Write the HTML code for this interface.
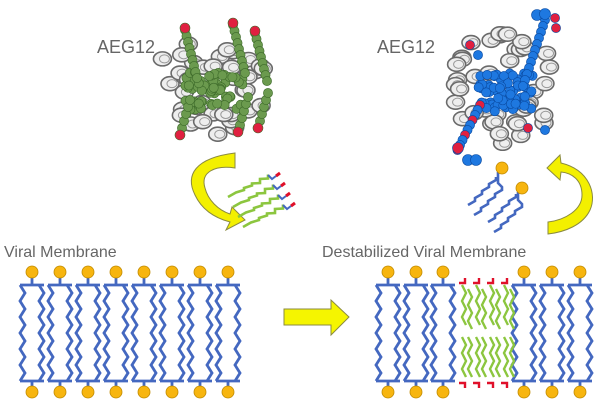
<!DOCTYPE html>
<html><head><meta charset="utf-8"><style>
html,body{margin:0;padding:0;background:#fff;width:604px;height:405px;overflow:hidden}
svg{display:block}
text{font-family:"Liberation Sans",sans-serif;fill:#666}
</style></head><body>
<svg id="s" width="604" height="405" viewBox="0 0 604 405">
<text x="97" y="53" font-size="18">AEG12</text>
<text x="377" y="53" font-size="18">AEG12</text>
<text x="4" y="257" font-size="16">Viral Membrane</text>
<text x="322" y="257" font-size="16">Destabilized Viral Membrane</text>
<polygon points="284,309 331,309 331,300 349,317 331,335 331,325 284,325" fill="#f5f500" stroke="#8a8a40" stroke-width="1"/>
<g id="g"></g>
</svg>
<script>
var g=document.getElementById('g'),h='';
function zig(x,y1,y2,a,col,w,st){st=st||8;var p='M'+x+' '+y1,k=0;for(var y=y1+st;y<=y2+0.1;y+=st){k++;p+=' L'+(x+(k%2?a:0))+' '+y;}return '<path d="'+p+'" fill="none" stroke="'+col+'" stroke-width="'+(w||2.8)+'" stroke-linejoin="miter"/>';}
var B='#4468c0',O='#f7b50f',G='#8cc63f',R='#e0102a';
function lipid(cx){var s='';
s+='<line x1="'+cx+'" y1="277" x2="'+cx+'" y2="285" stroke="'+B+'" stroke-width="2.8"/>';
s+='<line x1="'+(cx-12)+'" y1="285" x2="'+(cx+12)+'" y2="285" stroke="'+B+'" stroke-width="2.8"/>';
s+='<line x1="'+(cx-12)+'" y1="381" x2="'+(cx+12)+'" y2="381" stroke="'+B+'" stroke-width="2.8"/>';
s+='<line x1="'+cx+'" y1="381" x2="'+cx+'" y2="388" stroke="'+B+'" stroke-width="2.8"/>';
s+=zig(cx-12,285,381,5,B);s+=zig(cx+7,285,381,5,B);
s+='<circle cx="'+cx+'" cy="272" r="6" fill="'+O+'" stroke="#c08a00" stroke-width="0.8"/>';
s+='<circle cx="'+cx+'" cy="392" r="6" fill="'+O+'" stroke="#c08a00" stroke-width="0.8"/>';
return s;}
for(var i=0;i<8;i++)h+=lipid(32+i*28);
[388,416,443,524,552,580].forEach(function(c){h+=lipid(c)});
[467,481,495,509].forEach(function(c){
h+=zig(c-5,285,329,4,G,2.4)+zig(c+1,289,329,4,G,2.4);
h+=zig(c-5,337,381,4,G,2.4)+zig(c+1,337,377,4,G,2.4);
h+='<path d="M'+(c-8)+' 283 L'+(c-2)+' 283 L'+(c-2)+' 278" stroke="'+R+'" stroke-width="2.4" fill="none"/>';
h+='<path d="M'+(c-8)+' 383 L'+(c-2)+' 383 L'+(c-2)+' 388" stroke="'+R+'" stroke-width="2.4" fill="none"/>';
});
// curved arrows
h+='<path d="M235,153 C195,158 185,175 195,195 C202,210 215,218 230,222 L226,230 L245,220 L232,207 L230,214 C218,210 208,200 205,188 C200,172 215,165 235,168 Z" fill="#f3f000" stroke="#8a8a40" stroke-width="1"/>';
h+='<path d="M547,168 L560,155 L561,163 C590,170 597,195 590,210 C583,225 565,232 548,234 L548,222 C565,220 582,210 582,195 C582,180 572,173 561,172 L560,180 Z" fill="#f3f000" stroke="#8a8a40" stroke-width="1"/>';
// green chains
for(var j=0;j<4;j++){var x0=228+j*5,y0=197+j*10,p='M'+x0+' '+y0;
for(var k=1;k<=5;k++){p+=' L'+(x0+k*8)+' '+(y0-(k%2?1:0)-k*3.5)+' L'+(x0+k*8)+' '+(y0-k*4.5);}
h+='<path d="'+p+'" stroke="'+G+'" stroke-width="2.6" fill="none"/>';
var ex=x0+40,ey=y0-22;h+='<path d="M'+ex+' '+ey+' l4 4 l4 -3" stroke="'+B+'" stroke-width="2" fill="none"/><line x1="'+(ex+8)+'" y1="'+(ey+1)+'" x2="'+(ex+12)+'" y2="'+(ey-2)+'" stroke="'+R+'" stroke-width="3"/>';}
// blue chains with heads
[[468,205,502,168],[488,222,522,188]].forEach(function(a){var p='M'+a[0]+' '+a[1];
for(var k=1;k<=4;k++){p+=' L'+(a[0]+k*7)+' '+(a[1]-k*7+3)+' L'+(a[0]+k*7)+' '+(a[1]-k*7);}
h+='<path d="'+p+'" stroke="'+B+'" stroke-width="2.6" fill="none"/>';
var q='M'+(a[0]+6)+' '+(a[1]+10);for(k=1;k<=4;k++){q+=' L'+(a[0]+6+k*7)+' '+(a[1]+10-k*7+3)+' L'+(a[0]+6+k*7)+' '+(a[1]+10-k*7);}
q+=' L'+(a[0]+30)+' '+(a[1]-22)+' L'+(a[2]-4)+' '+(a[3]+4);
h+='<path d="'+q+'" stroke="'+B+'" stroke-width="2.6" fill="none"/>';
h+='<circle cx="'+a[2]+'" cy="'+a[3]+'" r="6" fill="'+O+'" stroke="#c08a00" stroke-width="0.8"/>';});
// proteins
function rnd(s){return function(){s=(s*9301+49297)%233280;return s/233280;}}
function protein(cx,cy,rx,ry,col,dark,seed,extra){var r=rnd(seed),s='';
for(var i=0;i<40;i++){var ang=r()*6.28,d=0.35+r()*0.65,x=cx+Math.cos(ang)*d*rx,y=cy+Math.sin(ang)*d*ry;
s+='<ellipse cx="'+x+'" cy="'+y+'" rx="9" ry="7" fill="#eee" stroke="#6a6a6a" stroke-width="1.6"/><ellipse cx="'+(x+2)+'" cy="'+y+'" rx="5" ry="4" fill="none" stroke="#999" stroke-width="1"/>';}
extra.forEach(function(pt){s+='<circle cx="'+pt[0]+'" cy="'+pt[1]+'" r="'+(pt[3]||4.6)+'" fill="'+(pt[2]||col)+'" stroke="'+dark+'" stroke-width="0.6"/>';});
return s;}
var gp=[],r1=rnd(7);
for(var i=0;i<70;i++){gp.push([185+r1()*60,72+r1()*38]);}
[[185,30],[233,25],[255,33]].forEach(function(t){for(var k=0;k<9;k++)gp.push([t[0]+k*1.5,t[1]+k*6]);gp.push([t[0],t[1]-2,'#e02040',5]);});
[[180,135],[238,132],[258,128]].forEach(function(t){for(var k=0;k<6;k++)gp.push([t[0]+k*2,t[1]-k*7]);gp.push([t[0],t[1],'#e02040',5]);});
h+=protein(210,85,58,52,'#6b9a4e','#3d6a2a',3,gp);
var bp=[],r2=rnd(11);
for(i=0;i<70;i++){bp.push([478+r2()*55,72+r2()*40]);}
for(k=0;k<12;k++)bp.push([545-k*2,20+k*6]);
bp.push([537,15,null,5.5],[545,14,null,5.5],[555,18,'#e02040'],[556,28,'#e02040']);
for(k=0;k<10;k++)bp.push([480-k*2.5,105+k*5,k%3?null:'#e02040']);
bp.push([458,148,'#e02040',5.5],[468,160,null,5.5],[476,160,null,5.5],[528,128,'#e02040'],[545,130,null],[470,45,'#e02040'],[478,55,null]);
h+=protein(508,88,58,62,'#1e78e0','#0a4aa0',5,bp);
g.innerHTML=h;
</script>
</body></html>
